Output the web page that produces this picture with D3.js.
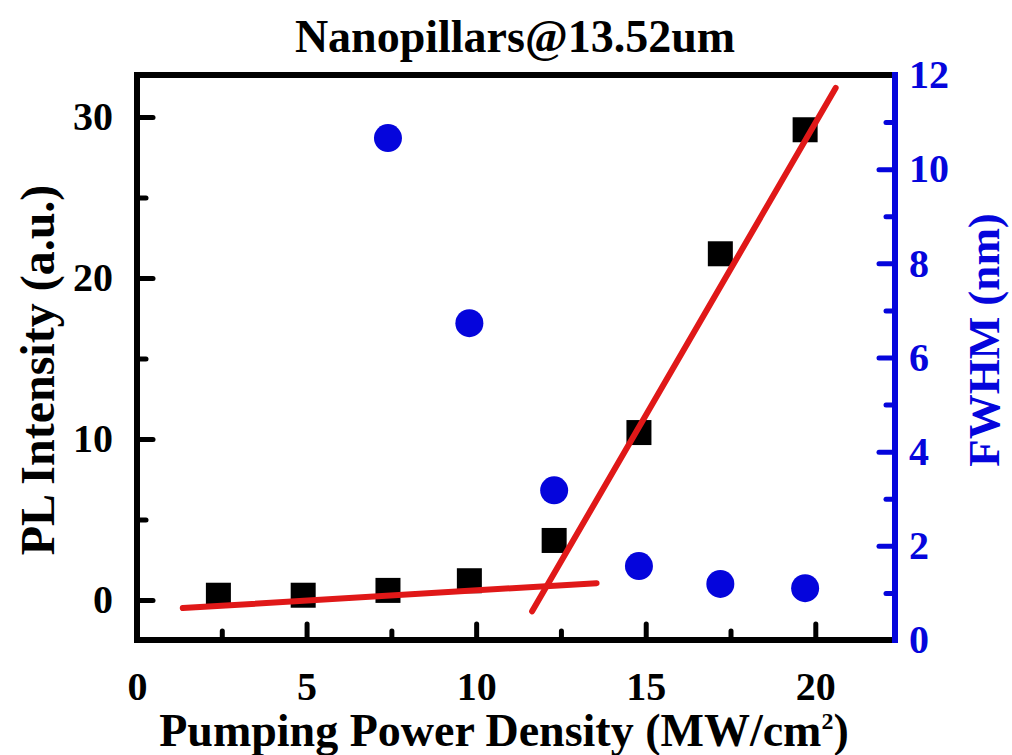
<!DOCTYPE html>
<meta charset="utf-8">
<style>
  body { margin: 0; background: #fff; }
  text { font-family: "Liberation Serif", "Times New Roman", serif; font-weight: bold; }
</style>
<body>
<script src="https://d3js.org/d3.v7.min.js"></script>
<script>

var width = 1012,
    height = 755;

// data
var power = [2.4, 4.9, 7.4, 9.8, 12.3, 14.8, 17.2, 19.7];
var intensity = [0.3, 0.3, 0.6, 1.2, 3.7, 10.4, 21.5, 29.2];
var fwhmPower = [7.4, 9.8, 12.3, 14.8, 17.2, 19.7];
var fwhm = [10.66, 6.73, 3.18, 1.57, 1.19, 1.10];
// two linear fits (below / above threshold), end points
var fitLow = [[1.35, -0.5], [13.55, 1.05]];
var fitHigh = [[11.65, -0.7], [20.6, 31.8]];

var xTicks = [0, 5, 10, 15, 20],
    xMinor = [2.5, 7.5, 12.5, 17.5],
    yTicks = [0, 10, 20, 30],
    yMinor = [5, 15, 25],
    y2Ticks = [0, 2, 4, 6, 8, 10, 12],
    y2Minor = [1, 3, 5, 7, 9, 11];

var pL = 137, pR = 895, pT = 75, pB = 640;
var blue = "#0505dc", red = "#e01818";

var x = d3.scaleLinear().domain([0, 22.35]).range([pL, pR]);
var y = d3.scaleLinear().domain([-2.48, 32.6]).range([pB, pT]);
var y2 = d3.scaleLinear().domain([0, 12]).range([pB, pT]);

var svg = d3.select("body").append("svg")
    .attr("width", width)
    .attr("height", height);

function styleAxis(g, color) {
  g.select(".domain").remove();
  g.selectAll("line").attr("stroke", color).attr("stroke-width", 5).attr("stroke-linecap", "round");
  g.selectAll("text").attr("fill", color).style("font-size", "40px").style("font-family", null);
}

// bottom axis
var gx = svg.append("g").attr("transform", "translate(0," + pB + ")")
    .call(d3.axisBottom(x).tickValues(xTicks).tickSize(-16).tickPadding(32).tickFormat(d3.format("d")));
styleAxis(gx, "#000");
var gxm = svg.append("g").attr("transform", "translate(0," + pB + ")")
    .call(d3.axisBottom(x).tickValues(xMinor).tickSize(-9).tickFormat(""));
styleAxis(gxm, "#000");

// left axis
var gy = svg.append("g").attr("transform", "translate(" + pL + ",0)")
    .call(d3.axisLeft(y).tickValues(yTicks).tickSize(-16).tickPadding(24).tickFormat(d3.format("d")));
styleAxis(gy, "#000");
var gym = svg.append("g").attr("transform", "translate(" + pL + ",0)")
    .call(d3.axisLeft(y).tickValues(yMinor).tickSize(-9).tickFormat(""));
styleAxis(gym, "#000");

// right axis
var gy2 = svg.append("g").attr("transform", "translate(" + pR + ",0)")
    .call(d3.axisRight(y2).tickValues(y2Ticks).tickSize(-16).tickPadding(14).tickFormat(d3.format("d")));
styleAxis(gy2, blue);
var gy2m = svg.append("g").attr("transform", "translate(" + pR + ",0)")
    .call(d3.axisRight(y2).tickValues(y2Minor).tickSize(-9).tickFormat(""));
styleAxis(gy2m, blue);

// frame lines on top of ticks
function frame(x1, y1, x2, y2c, color) {
  svg.append("line").attr("x1", x1).attr("y1", y1).attr("x2", x2).attr("y2", y2c)
    .attr("stroke", color).attr("stroke-width", 6).attr("stroke-linecap", "square");
}
frame(pL, pT, pR, pT, "#000");
frame(pL, pB, pR, pB, "#000");
frame(pL, pT, pL, pB, "#000");
frame(pR, pT, pR, pB, blue);

// squares (PL intensity)
var sq = 25;
svg.append("g").selectAll("rect")
  .data(power)
  .enter().append("rect")
    .attr("x", function(d) { return x(d) - sq / 2; })
    .attr("y", function(d, i) { return y(intensity[i]) - sq / 2; })
    .attr("width", sq)
    .attr("height", sq)
    .attr("fill", "#000");

// circles (FWHM)
svg.append("g").selectAll("circle")
  .data(fwhmPower)
  .enter().append("circle")
    .attr("cx", function(d) { return x(d); })
    .attr("cy", function(d, i) { return y2(fwhm[i]); })
    .attr("r", 14)
    .attr("fill", blue);

// fit lines
var line = d3.line().x(function(d) { return x(d[0]); }).y(function(d) { return y(d[1]); });
[fitLow, fitHigh].forEach(function(f) {
  svg.append("path").attr("d", line(f))
    .attr("fill", "none").attr("stroke", red).attr("stroke-width", 6).attr("stroke-linecap", "round");
});

// titles
svg.append("text").attr("x", 515).attr("y", 52).attr("text-anchor", "middle")
    .style("font-size", "46px").text("Nanopillars@13.52um");

var xt = svg.append("text").attr("x", 504).attr("y", 746).attr("text-anchor", "middle")
    .style("font-size", "46px");
xt.append("tspan").text("Pumping Power Density (MW/cm");
xt.append("tspan").attr("dy", -17).style("font-size", "24px").text("2");
xt.append("tspan").attr("dy", 17).text(")");

svg.append("text").attr("transform", "translate(54,370) rotate(-90)").attr("text-anchor", "middle")
    .style("font-size", "48px").text("PL Intensity (a.u.)");

svg.append("text").attr("transform", "translate(999,340) rotate(-90)").attr("text-anchor", "middle")
    .attr("fill", blue).style("font-size", "45px").text("FWHM (nm)");

</script>
